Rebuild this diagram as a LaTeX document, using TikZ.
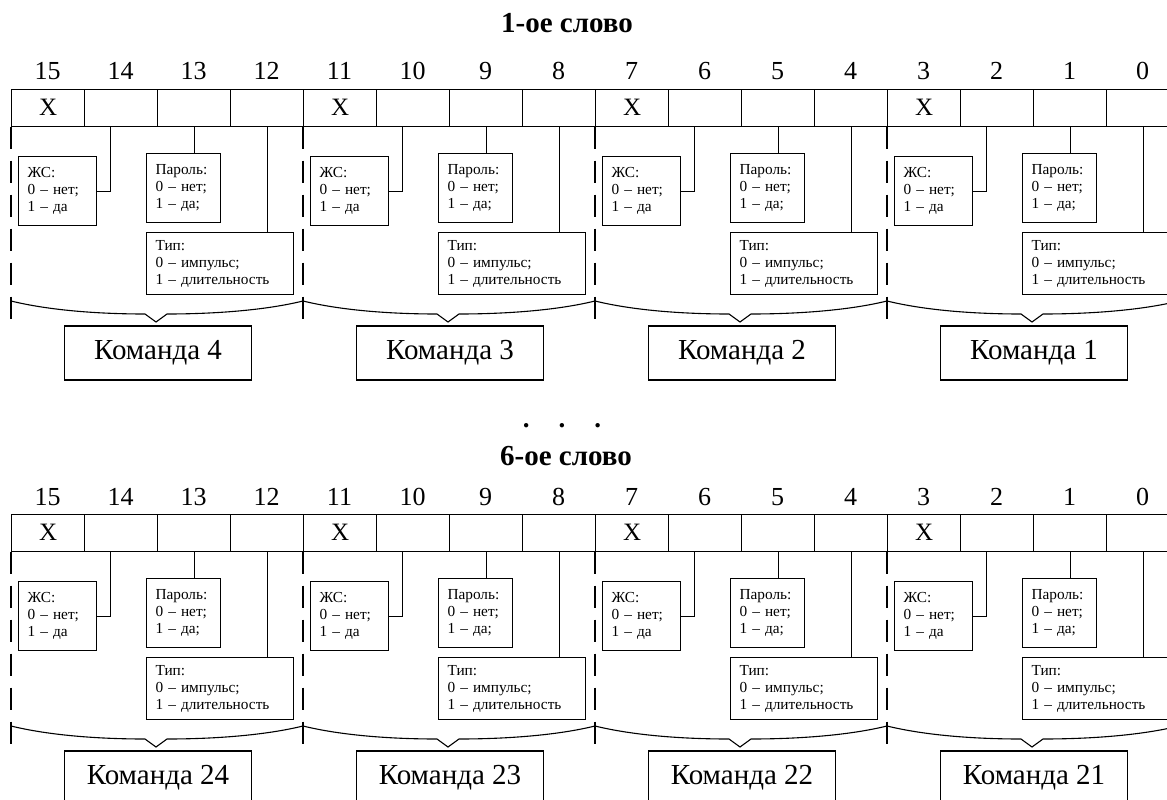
\documentclass[tikz,border=0pt]{standalone}
\usepackage{fontspec}
\setmainfont{Liberation Serif}
\usetikzlibrary{calc}
\tikzset{
  cell/.style={draw, line width=1.1pt, minimum width=73pt, minimum height=37pt, inner sep=0pt, anchor=north west},
  bitnum/.style={font=\fontsize{26}{26}\selectfont, anchor=base, inner sep=0pt},
  xmark/.style={font=\fontsize{25}{25}\selectfont, inner sep=0pt},
  title/.style={font=\fontsize{29}{29}\selectfont\bfseries, anchor=base, inner sep=0pt},
  infobox/.style={draw, line width=1.1pt, anchor=north west, inner xsep=9pt, inner ysep=0pt,
    align=left, font=\fontsize{15.3}{17}\selectfont},
  cmdbox/.style={draw, line width=1.1pt, minimum width=187pt, minimum height=54pt, inner sep=0pt,
    font=\fontsize{29}{29}\selectfont},
  link/.style={line width=1.1pt},
  sepline/.style={line width=1.1pt, dash pattern=on 22pt off 12pt},
  bracecurve/.style={line width=1.1pt},
}
\begin{document}
\begin{tikzpicture}[x=1pt, y=-1pt]
\useasboundingbox (0,0) rectangle (1167,800);
\clip (0,0) rectangle (1167,800);

\node[title] (t1) at (567,33) {1-ое слово};
\node[title] (t2) at (566,465) {6-ое слово};
\node[font=\fontsize{27}{27}\selectfont\bfseries, anchor=base, inner sep=0pt] (dots) at (562,427) {.\hspace{29pt}.\hspace{29pt}.};

\foreach \w/\dy/\base in {1/0/4, 2/425/24} {
  \foreach \i in {0,...,15} {
    \pgfmathtruncatemacro\b{15-\i}
    \node[cell] (c\w-\i) at ({11+73*\i}, {88.5+\dy}) {};
    \node[bitnum] (n\w-\i) at ({47.5+73*\i}, {80+\dy}) {\b};
  }
  \foreach \g in {0,1,2,3} {
    \pgfmathtruncatemacro\ka{4*\g}
    \pgfmathtruncatemacro\kb{4*\g+1}
    \pgfmathtruncatemacro\kc{4*\g+2}
    \pgfmathtruncatemacro\kd{4*\g+3}
    \pgfmathtruncatemacro\num{\base-\g}
    \pgfmathsetmacro\gx{11+292*\g}
    \node[xmark] (x\w-\g) at (c\w-\ka.center) {X};
    % info boxes
    \node[infobox, text width=60pt, minimum height=69pt] (zs\w-\g) at ({\gx+7}, {156+\dy})
      {ЖС:\\0 – нет;\\1 – да};
    \node[infobox, text width=56pt, minimum height=69pt] (pw\w-\g) at ({\gx+135}, {153+\dy})
      {Пароль:\\0 – нет;\\1 – да;};
    \node[infobox, text width=129pt, minimum height=62pt] (tp\w-\g) at ({\gx+135}, {232+\dy})
      {Тип:\\0 – импульс;\\1 – длительность};
    % connectors
    \coordinate (a\w-\g) at ([xshift=-10.5pt]c\w-\kb.south);
    \draw[link] (a\w-\g) |- (zs\w-\g.east);
    \draw[link] (c\w-\kc.south) -- (c\w-\kc.south |- pw\w-\g.north);
    \draw[link] (c\w-\kd.south) -- (c\w-\kd.south |- tp\w-\g.north);
    % separator
    \coordinate (s\w-\g) at ({\gx}, {323+\dy});
    \draw[sepline] (c\w-\ka.south west) -- (s\w-\g);
    % brace
    \draw[bracecurve] ({\gx},{301+\dy}) .. controls ({\gx+45},{312+\dy}) and ({\gx+100},{314+\dy}) .. ({\gx+134},{314+\dy})
      -- ({\gx+145},{322+\dy}) -- ({\gx+156},{314+\dy})
      .. controls ({\gx+190},{314+\dy}) and ({\gx+247},{312+\dy}) .. ({\gx+292},{301+\dy});
    % command box
    \node[cmdbox] (k\w-\g) at ({\gx+147}, {353+\dy}) {Команда \num};
  }
}
\end{tikzpicture}
\end{document}
